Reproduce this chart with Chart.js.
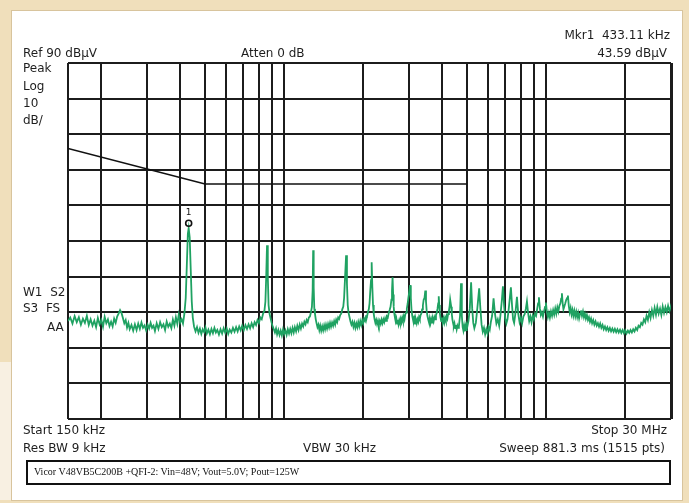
<!DOCTYPE html>
<html>
<head>
<meta charset="utf-8">
<script src="https://cdn.jsdelivr.net/npm/chart.js@4.4.1/dist/chart.umd.min.js"></script>
<style>
  html, body { margin: 0; padding: 0; }
  body { width: 689px; height: 503px; background: #f0dfbb; position: relative; overflow: hidden; }
  #panel { position: absolute; left: 11px; top: 10px; width: 670px; height: 489px; background: #ffffff; border: 1px solid #d8c49d; }
  #strip { position: absolute; left: 0; top: 362px; width: 11px; height: 138px; background: #f8f0e2; }
  #cv { position: absolute; left: 0; top: 0; }
  .t { position: absolute; font-family: "DejaVu Sans", sans-serif; font-size: 12px; line-height: 12px; color: #1e1e1e; white-space: pre; }
  .r { text-align: right; }
  #box { position: absolute; left: 26px; top: 460px; width: 641px; height: 21px; border: 2px solid #111; }
  #boxt { position: absolute; left: 6px; top: 5px; font-family: "Liberation Serif", serif; font-size: 10px; line-height: 10px; color: #111; white-space: pre; }
</style>
</head>
<body>
<div id="panel"></div>
<div id="strip"></div>
<canvas id="cv" width="689" height="503"></canvas>

<div class="t" style="left:23px;top:47px;">Ref 90 dBµV</div>
<div class="t" style="left:241px;top:47px;">Atten 0 dB</div>
<div class="t r" style="right:19px;top:29px;">Mkr1  433.11 kHz</div>
<div class="t r" style="right:22px;top:47px;">43.59 dBµV</div>
<div class="t" style="left:23px;top:62px;">Peak</div>
<div class="t" style="left:23px;top:80px;">Log</div>
<div class="t" style="left:23px;top:97px;">10</div>
<div class="t" style="left:23px;top:114px;">dB/</div>
<div class="t" style="left:23px;top:286px;">W1  S2</div>
<div class="t" style="left:23px;top:302px;">S3  FS</div>
<div class="t" style="left:47px;top:321px;">AA</div>
<div class="t" style="left:23px;top:424px;">Start 150 kHz</div>
<div class="t" style="left:23px;top:442px;">Res BW 9 kHz</div>
<div class="t" style="left:303px;top:442px;">VBW 30 kHz</div>
<div class="t r" style="right:22px;top:424px;">Stop 30 MHz</div>
<div class="t r" style="right:24px;top:442px;">Sweep 881.3 ms (1515 pts)</div>
<div id="box"><div id="boxt">Vicor V48VB5C200B +QFI-2: Vin=48V; Vout=5.0V; Pout=125W</div></div>

<script>
// ---- data (frequency in kHz, level in dBµV) ----
const gridFreqKHz = [150, 200, 300, 400, 500, 600, 700, 800, 900, 1000,
  2000, 3000, 4000, 5000, 6000, 7000, 8000, 9000, 10000, 20000, 30000];
const levelTicks = [-10, 0, 10, 20, 30, 40, 50, 60, 70, 80, 90];

const limitFreqKHz = [150, 500, 5000];
const limitDbuV = [66, 56, 56];

const markerFreqKHz = 433.11;
const markerDbuV = 43.59;

const tracePoints = [
  [150,17.5],[153,18.5],[156,16.8],[159,18.9],[162,17.2],[165,18.6],[168,16.5],[171,18.2],[174,17.0],[177,19.0],
  [180,16.4],[183,18.0],[186,16.2],[189,17.6],[192,15.8],[195,18.4],[198,16.6],[201,17.8],[204,15.9],[207,18.7],
  [210,16.9],[213,18.0],[216,16.1],[219,17.3],[222,16.0],[225,18.2],[228,17.0],[231,18.8],[234,19.6],[237,20.6],
  [240,19.8],[243,18.4],[246,16.9],[249,17.8],[252,15.7],[255,17.0],[258,15.2],[262,16.4],[266,14.8],[270,16.6],
  [274,15.0],[278,16.8],[282,15.3],[286,17.1],[290,15.6],[294,16.3],[298,14.9],[302,16.5],[306,15.4],[310,17.0],
  [314,15.6],[318,16.2],[322,14.7],[327,16.9],[332,15.3],[337,17.2],[342,15.8],[347,16.6],[352,15.0],[357,17.4],
  [362,15.9],[367,16.8],[372,15.5],[377,17.9],[382,16.2],[387,18.6],[392,16.7],[397,19.3],[402,17.1],[407,18.0],
  [412,16.8],[417,19.5],[422,24],[426,33],[430,42],[433.11,43.59],[437,41],[441,32],[445,23],[449,18.5],[454,16.0],
  [460,14.6],[466,15.8],[472,14.2],[478,15.4],[484,13.9],[490,15.2],[496,14.4],[502,15.7],[508,14.0],[515,15.1],
  [522,13.8],[529,15.3],[536,14.1],[543,15.6],[550,14.3],[557,15.0],[565,13.7],[573,15.2],[581,14.0],[589,15.5],
  [597,14.2],[605,15.4],[613,13.9],[621,15.1],[630,14.3],[639,15.6],[648,14.5],[657,15.8],[666,14.6],[675,16.0],
  [684,14.9],[693,16.2],[703,15.0],[713,16.4],[723,15.3],[733,16.6],[743,15.5],[753,16.9],[763,15.8],[773,17.2],
  [783,16.4],[793,17.8],[803,17.0],[813,18.5],[823,18.0],[833,19.6],[843,20.5],[850,23],[856,30],[862,38.8],
  [868,30],[874,22],[882,19.5],[890,18.2],[898,17.0],[906,16.0],[915,15.2],
  [924,14.3],[933,15.4],[942,13.8],[952,15.0],[962,13.6],[972,14.8],[982,13.5],[992,15.1],[1002,13.8],[1013,14.9],
  [1024,13.6],[1035,15.2],[1046,14.0],[1057,15.3],[1068,14.1],[1079,15.6],[1090,14.3],[1101,15.8],[1113,14.6],[1125,16.2],
  [1137,15.0],[1149,16.5],[1161,15.4],[1173,16.8],[1185,16.0],[1197,17.3],[1209,16.6],[1221,17.8],[1233,17.2],[1245,18.5],
  [1257,18.8],[1268,20.0],[1279,21.5],[1287,26],[1293,37.4],[1299,27],[1306,21],[1314,19.5],[1323,18.0],[1333,16.8],
  [1343,15.8],[1354,16.5],[1365,15.0],[1376,16.2],[1388,14.8],[1400,16.0],[1412,14.9],[1424,16.3],[1436,15.2],[1448,16.5],
  [1461,15.4],[1474,16.7],[1487,15.7],[1500,17.0],[1513,15.9],[1527,17.1],[1541,16.2],[1555,17.5],[1569,16.5],[1583,17.9],
  [1597,17.2],[1611,18.5],[1625,18.1],[1640,19.2],[1655,19.6],[1670,20.8],[1685,21.6],[1697,24],[1712,30],[1727,36.0],
  [1740,28],[1752,22],[1765,19.8],[1780,18.6],[1795,17.4],[1810,16.5],[1826,17.3],[1842,15.9],[1858,17.0],[1874,15.6],
  [1890,16.8],[1906,15.8],[1922,17.2],[1939,16.0],[1956,17.5],[1973,16.4],[1990,17.7],[2007,16.9],[2024,18.2],[2041,17.6],
  [2058,18.9],[2075,18.8],[2092,20.0],[2109,20.9],[2122,22.5],[2136,26],[2150,29],[2162,34.0],[2175,27],[2188,22],
  [2202,19.5],[2218,18.0],[2234,17.0],[2250,17.8],[2268,16.6],[2286,17.6],[2304,16.4],[2322,17.5],[2340,16.7],[2358,17.9],
  [2377,16.9],[2396,18.0],[2415,17.2],[2434,18.3],[2453,17.6],[2472,18.8],[2492,18.5],[2512,19.8],[2532,20.6],[2552,21.5],
  [2572,23.5],[2585,26],[2598,29.8],[2611,25],[2624,21.5],[2638,19.6],[2654,18.4],[2670,17.4],[2686,18.2],[2703,16.8],
  [2720,17.9],[2737,16.6],[2755,17.7],[2773,16.9],[2791,18.1],[2809,17.2],[2828,18.4],[2847,17.5],[2866,18.8],[2885,18.0],
  [2905,19.4],[2925,19.9],[2945,21.0],[2965,22.3],[2985,24],[3005,25.5],[3030,27.6],[3050,24],[3068,20.8],[3088,19.0],
  [3108,18.0],[3128,17.2],[3149,18.2],[3170,16.8],[3191,17.8],[3212,16.9],[3234,18.0],[3256,17.3],[3278,18.6],[3300,18.0],
  [3322,19.2],[3345,19.6],[3368,20.8],[3391,21.9],[3414,23.5],[3440,24],[3464,26.1],[3485,23],[3505,20.5],[3528,19.0],
  [3552,18.0],[3576,17.2],[3600,18.3],[3625,16.9],[3650,18.0],[3675,17.1],[3700,18.2],[3726,17.4],[3752,18.6],[3778,18.0],
  [3804,19.2],[3830,19.8],[3856,21.0],[3880,22.5],[3898,24.5],[3915,22],[3935,19.8],[3960,18.4],[3985,17.5],[4010,18.5],
  [4038,17.0],[4066,18.2],[4094,17.1],[4122,18.4],[4150,17.6],[4178,18.9],[4206,18.2],[4234,19.5],[4262,20.3],[4290,21.8],
  [4310,23.5],[4331,23.5],[4350,21.5],[4372,19.5],[4395,18.0],[4420,17.0],[4448,16.0],[4476,16.8],[4505,15.5],[4534,16.4],
  [4563,15.2],[4592,16.2],[4622,15.6],[4652,16.0],[4700,19],[4740,28.1],[4775,19],[4810,15.8],[4842,14.8],[4870,16.0],
  [4898,14.6],[4926,15.9],[4955,15.0],[4984,16.5],[5013,16.0],[5060,17.5],[5120,21],[5180,28.4],[5230,21],[5280,17.0],
  [5330,15.5],[5400,17],[5470,21],[5560,26.7],[5620,21],[5680,16.5],[5740,14.5],[5800,15.6],[5860,13.8],[5920,15.2],
  [5980,14.0],[6040,15.8],[6100,15.0],[6160,17.2],[6230,19],[6310,23.9],[6390,19.5],[6470,16.8],[6550,18.0],[6630,16.2],
  [6700,19],[6780,23],[6851,27.3],[6920,22],[6990,18.2],[7060,16.8],[7130,18.0],[7200,20.5],[7280,24],[7348,27.0],
  [7420,22],[7490,18],[7560,17.0],[7640,19.5],[7749,24.3],[7840,19.5],[7930,17.2],[8020,18.5],[8110,16.9],[8200,18.8],
  [8300,19.5],[8380,21],[8460,23.0],[8540,20],[8630,17.5],[8720,18.8],[8810,17.2],[8900,19.0],[8990,18.0],[9080,19.6],
  [9170,19.0],[9260,21],[9330,22.5],[9400,24.2],[9480,21.0],[9560,19.2],[9650,20.0],[9740,18.8],[9830,20.3],[9920,21.5],
  [9996,22.7],[10080,20.0],[10170,18.6],[10260,19.8],[10350,18.5],[10450,20.2],[10550,19.0],[10650,20.6],[10750,19.3],[10850,21.0],
  [10950,19.6],[11050,21.4],[11150,20.2],[11250,21.8],[11350,22.5],[11430,23.8],[11505,25.3],[11580,22.5],[11660,20.8],[11750,21.6],
  [11850,22.5],[11950,23.5],[12050,24.0],[12128,24.7],[12220,21.8],[12320,20.0],[12420,21.2],[12520,19.4],[12620,20.6],[12720,19.0],
  [12830,20.4],[12940,18.8],[13050,20.1],[13160,18.6],[13270,19.8],[13380,18.3],[13490,19.5],[13600,20.5],[13720,19.0],[13840,20.2],
  [13960,18.6],[14080,19.6],[14200,18.2],[14330,19.2],[14460,17.8],[14590,18.6],[14720,17.3],[14860,18.2],[15000,16.9],[15150,17.8],
  [15300,16.5],[15460,17.4],[15620,16.2],[15780,16.9],[15940,15.9],[16100,16.8],[16270,15.6],[16440,16.4],[16610,15.2],[16790,16.0],
  [16970,15.0],[17150,15.8],[17340,14.8],[17530,15.6],[17720,14.6],[17920,15.4],[18120,14.5],[18320,15.3],[18530,14.4],[18740,15.2],
  [18950,14.3],[19170,15.1],[19390,14.2],[19610,15.0],[19840,14.1],[20070,14.9],[20300,14.0],[20540,14.8],[20780,14.2],[21020,15.0],
  [21270,14.3],[21520,15.2],[21770,14.6],[22030,15.6],[22290,15.0],[22550,16.2],[22820,15.8],[23090,17.0],[23360,16.5],[23640,18.0],
  [23920,17.2],[24200,19.0],[24490,17.8],[24780,20.0],[25070,18.4],[25370,20.6],[25670,19.0],[25980,21.2],[26290,19.3],[26600,21.5],
  [26920,19.6],[27240,21.0],[27560,19.2],[27890,21.6],[28220,19.8],[28560,21.4],[28900,20.0],[29240,21.8],[29580,20.3],[29920,21.5],
  [30000,20.8]
];

// ---- chart ----
const markerPlugin = {
  id: 'marker',
  afterDatasetsDraw(chart) {
    const ctx = chart.ctx;
    const xs = chart.scales.x, ys = chart.scales.y;
    const px = xs.getPixelForValue(markerFreqKHz);
    const py = ys.getPixelForValue(markerDbuV);
    ctx.save();
    ctx.strokeStyle = '#111';
    ctx.lineWidth = 1.6;
    ctx.beginPath();
    ctx.arc(px, py - 5, 3, 0, Math.PI * 2);
    ctx.stroke();
    ctx.fillStyle = '#111';
    ctx.font = '9px "DejaVu Sans", sans-serif';
    ctx.textAlign = 'center';
    ctx.textBaseline = 'middle';
    ctx.fillText('1', px, py - 16);
    ctx.restore();
  }
};

new Chart(document.getElementById('cv'), {
  type: 'line',
  data: {
    datasets: [
      {
        label: 'Trace',
        data: tracePoints.map(p => ({ x: p[0], y: p[1] })),
        borderColor: '#1fa262',
        borderWidth: 1.8,
        pointRadius: 0,
        tension: 0,
        order: 2
      },
      {
        label: 'Limit',
        data: limitFreqKHz.map((f, i) => ({ x: f, y: limitDbuV[i] })),
        borderColor: '#111',
        borderWidth: 1.6,
        pointRadius: 0,
        tension: 0,
        order: 1
      }
    ]
  },
  options: {
    responsive: false,
    animation: false,
    events: [],
    layout: { padding: { left: 68, top: 63, right: 18, bottom: 84 } },
    plugins: { legend: { display: false }, tooltip: { enabled: false } },
    scales: {
      x: {
        type: 'logarithmic',
        min: 150, max: 30000,
        afterBuildTicks: s => { s.ticks = gridFreqKHz.map(v => ({ value: v })); },
        ticks: { display: false },
        border: { display: false },
        grid: {
          color: '#1c1c1c',
          lineWidth: c => (c.tick && c.tick.value === 30000) ? 3 : 2,
          drawTicks: false
        }
      },
      y: {
        type: 'linear',
        min: -10, max: 90,
        afterBuildTicks: s => { s.ticks = levelTicks.map(v => ({ value: v })); },
        ticks: { display: false },
        border: { display: false },
        grid: { color: '#1c1c1c', lineWidth: 2, drawTicks: false }
      }
    }
  },
  plugins: [markerPlugin]
});
</script>
</body>
</html>
